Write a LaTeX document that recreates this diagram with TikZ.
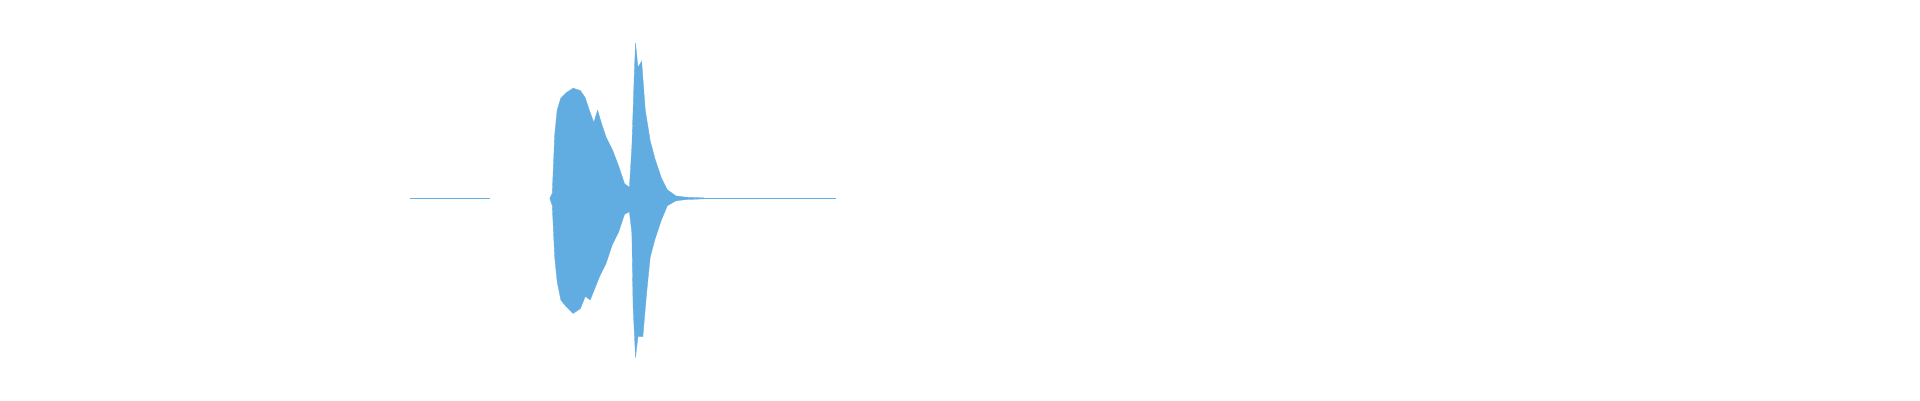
\documentclass[tikz,border=0pt]{standalone}
\definecolor{wave}{HTML}{61ADE2}
\begin{document}
\begin{tikzpicture}[x=1.2245pt,y=-1.2245pt,wavefill/.style={fill=wave,draw=wave,line width=0.3pt}]
\useasboundingbox (0,0) rectangle (1568,327);
\draw[wave,line width=0.6pt] (335,162) -- (400,162);
\draw[wave,line width=0.6pt] (545,162) -- (683,162);
\fill[wavefill] (449,162) -- (451,158) -- (453,110) -- (455,90) -- (458,80) -- (462,76) -- (468,72) -- (474,74) -- (478,80) -- (482,92) -- (485,100) -- (488,90) -- (491,100) -- (495,112) -- (500,122) -- (505,135) -- (510,150) -- (514,153) -- (516,120) -- (518,60) -- (519,35) -- (521,55) -- (524,50) -- (527,90) -- (531,115) -- (535,130) -- (540,145) -- (545,155) -- (552,160) -- (560,161) -- (575,161.6)
 -- (575,162.4) -- (560,163) -- (552,164) -- (545,168) -- (540,180) -- (535,195) -- (531,210) -- (528,240) -- (525,275) -- (521,275) -- (519,292) -- (517,250) -- (516,190) -- (514,173) -- (510,175) -- (505,190) -- (500,200) -- (495,215) -- (490,225) -- (486,235) -- (482,245) -- (478,242) -- (474,252) -- (468,256) -- (462,250) -- (458,245) -- (455,230) -- (453,210) -- (451,168) -- cycle;
\end{tikzpicture}
\end{document}
